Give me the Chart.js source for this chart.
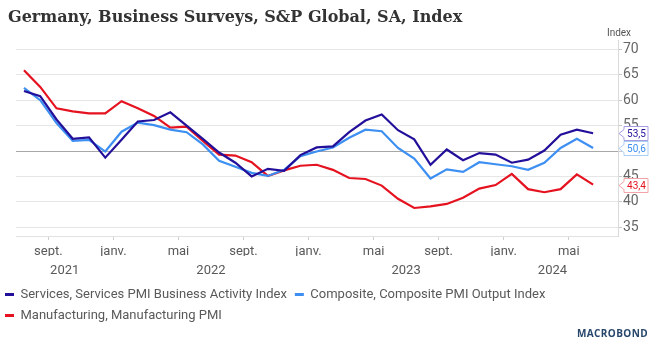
<!DOCTYPE html>
<html><head><meta charset="utf-8">
<script src="https://cdn.jsdelivr.net/npm/chart.js@4"></script>
<style>html,body{margin:0;padding:0;background:#fff}#wrap{width:652px;height:346px;position:relative}</style>
</head><body><div id="wrap"><canvas id="c"></canvas></div>
<script>
// ---- Data (monthly, Jul 2021 - Jun 2024) ----
const months = ["2021-07","2021-08","2021-09","2021-10","2021-11","2021-12",
 "2022-01","2022-02","2022-03","2022-04","2022-05","2022-06","2022-07","2022-08","2022-09","2022-10","2022-11","2022-12",
 "2023-01","2023-02","2023-03","2023-04","2023-05","2023-06","2023-07","2023-08","2023-09","2023-10","2023-11","2023-12",
 "2024-01","2024-02","2024-03","2024-04","2024-05","2024-06"];
const services = [61.8,60.8,56.2,52.4,52.7,48.7, 52.2,55.8,56.1,57.6,55.0,52.4,49.7,47.7,45.0,46.5,46.1,49.2,
 50.7,50.9,53.7,56.0,57.2,54.1,52.3,47.3,50.3,48.2,49.6,49.3, 47.7,48.3,50.1,53.2,54.2,53.5];
const composite = [62.4,60.0,55.5,52.0,52.2,49.9, 53.8,55.6,55.1,54.2,53.7,51.3,48.1,46.9,45.7,45.1,46.3,49.0,
 49.9,50.7,52.6,54.2,53.9,50.6,48.5,44.6,46.4,45.9,47.8,47.4, 47.0,46.3,47.7,50.6,52.4,50.6];
const manufacturing = [65.9,62.6,58.4,57.8,57.4,57.4, 59.8,58.4,56.9,54.6,54.8,52.0,49.3,49.1,47.8,45.1,46.2,47.1,
 47.3,46.3,44.7,44.5,43.2,40.6,38.8,39.1,39.6,40.8,42.6,43.3, 45.5,42.5,41.9,42.5,45.4,43.4];
const seriesNames = ["Services, Services PMI Business Activity Index","Composite, Composite PMI Output Index","Manufacturing, Manufacturing PMI"];
const monthTickLabels = ["sept.","janv.","mai","sept.","janv.","mai","sept.","janv.","mai"];
const monthTickMonths = ["2021-09","2022-01","2022-05","2022-09","2023-01","2023-05","2023-09","2024-01","2024-05"];
const yearLabels = ["2021","2022","2023","2024"];
const yTicks = [35,40,45,50,55,60,65,70];
const titleText = "Germany, Business Surveys, S&P Global, SA, Index";
const unitText = "Index";

// ---- Styles ----
const C_SERV = "#23109a", C_COMP = "#3d8ff2", C_MANU = "#e5121f";
const C_SERV_L = "#a69de0", C_COMP_L = "#a9cff7", C_MANU_L = "#f3a4a9";
const XMIN = -0.49, XMAX = 36.53;

const idx = m => months.indexOf(m);
const pts = arr => arr.map((v,i)=>({x:i,y:v}));
const monthTickPos = monthTickMonths.map(m => idx(m) - 0.5);
const yearSpans = yearLabels.map(y => {
  const first = months.findIndex(m=>m.startsWith(y));
  const last = months.length-1-[...months].reverse().findIndex(m=>m.startsWith(y));
  const a = Math.max(first-0.5, XMIN), b = Math.min(last+0.5, XMAX);
  return (a+b)/2;
});

const endLabels = {
  id:'endLabels',
  afterDraw(chart){
    const {ctx, scales:{y}} = chart;
    const lights = [C_SERV_L, C_COMP_L, C_MANU_L];
    chart.data.datasets.forEach((ds,i)=>{
      const v = ds.data[ds.data.length-1].y;
      const py = Math.round(y.getPixelForValue(v))+0.5;
      const x0 = chart.chartArea.right + 1, x1 = x0+5, x2 = x0+29, h = 7;
      ctx.save();
      ctx.beginPath();
      ctx.moveTo(x0,py); ctx.lineTo(x1,py-4); ctx.lineTo(x1,py-h); ctx.lineTo(x2,py-h);
      ctx.lineTo(x2,py+h); ctx.lineTo(x1,py+h); ctx.lineTo(x1,py+4); ctx.closePath();
      ctx.fillStyle = '#fff'; ctx.fill();
      ctx.strokeStyle = lights[i]; ctx.lineWidth = 1; ctx.stroke();
      ctx.fillStyle = ds.borderColor; ctx.font = '10px Roboto';
      ctx.textAlign = 'center'; ctx.textBaseline = 'middle';
      ctx.fillText(v.toFixed(1).replace('.',','), (x1+x2)/2+0.5, py+0.5);
      ctx.restore();
    });
  }
};
const decor = {
  id:'decor',
  afterDraw(chart){
    const {ctx} = chart;
    ctx.save();
    ctx.fillStyle = '#333'; ctx.font = 'bold 16px "DejaVu Serif"';
    ctx.textAlign='left'; ctx.textBaseline='alphabetic';
    ctx.fillText(titleText, 8, 22);
    ctx.fillStyle = '#555'; ctx.font = '10px Roboto'; ctx.textAlign='center'; ctx.textBaseline='middle';
    ctx.fillText(unitText, 619, 33);
    ctx.fillStyle = '#27466b'; ctx.font = 'bold 10px "Open Sans"'; ctx.textAlign='right';
    try{ ctx.letterSpacing='0.4px'; }catch(e){}
    ctx.fillText('MACROBOND', 648, 334);
    ctx.restore();
  }
};

const lineDs = (label, arr, color) => ({label, data:pts(arr), xAxisID:'x', yAxisID:'y',
  borderColor:color, backgroundColor:color, borderWidth:2.2, pointRadius:0, tension:0});

new Chart(document.getElementById('c'), {
  type:'line',
  data:{ datasets:[
    lineDs(seriesNames[0], services, C_SERV),
    lineDs(seriesNames[1], composite, C_COMP),
    lineDs(seriesNames[2], manufacturing, C_MANU)
  ]},
  options:{
    responsive:true, maintainAspectRatio:false, animation:false,
    layout:{padding:{top:40,right:0,bottom:14,left:-3}},
    plugins:{
      title:{display:false},
      tooltip:{enabled:false},
      legend:{display:true, position:'bottom', align:'start',
        labels:{boxWidth:9, boxHeight:3, padding:8, color:'#595959', font:{family:'Roboto', size:13},
          generateLabels(chart){
            return Chart.defaults.plugins.legend.labels.generateLabels(chart).map(l=>Object.assign(l,{lineWidth:0}));
          }}}
    },
    scales:{
      dummy:{type:'linear', position:'left', display:true, min:0, max:1,
        grid:{display:false, drawTicks:false}, border:{display:false}, ticks:{display:false},
        afterFit(s){ s.width = 19; }},
      x:{type:'linear', position:'bottom', min:XMIN, max:XMAX, weight:0,
        grid:{display:true, drawOnChartArea:false, drawTicks:true, tickLength:4, color:'#cfcfcf'},
        border:{display:true, color:'#e2e2e2'},
        ticks:{padding:4, color:'#595959', font:{family:'Roboto', size:13}, maxRotation:0, autoSkip:false,
          callback:(v,i)=>monthTickLabels[i]},
        afterBuildTicks(s){ s.ticks = monthTickPos.map(v=>({value:v})); },
        afterFit(s){ s.height = 20; }},
      xYear:{type:'linear', position:'bottom', min:XMIN, max:XMAX, weight:1,
        grid:{display:false, drawTicks:false}, border:{display:false},
        ticks:{padding:7, color:'#595959', font:{family:'Roboto', size:13}, maxRotation:0, autoSkip:false,
          callback:(v,i)=>yearLabels[i]},
        afterBuildTicks(s){ s.ticks = yearSpans.map(v=>({value:v})); },
        afterFit(s){ s.height = 24; }},
      y:{type:'linear', position:'right', min:33.29, max:71.83,
        grid:{color:c=>c.tick && c.tick.value===50 ? '#a8a8a8' : '#e6e6e6', lineWidth:1, drawTicks:true, tickLength:4, tickColor:'#c8c8c8'},
        border:{display:true, color:'#dadada'},
        ticks:{padding:1, color:'#666', font:{family:'Roboto', size:14}, callback:v=>String(v)},
        afterBuildTicks(s){ s.ticks = yTicks.map(v=>({value:v})); },
        afterFit(s){ s.width = 34; }}
    }
  },
  plugins:[endLabels, decor]
});
</script></body></html>
